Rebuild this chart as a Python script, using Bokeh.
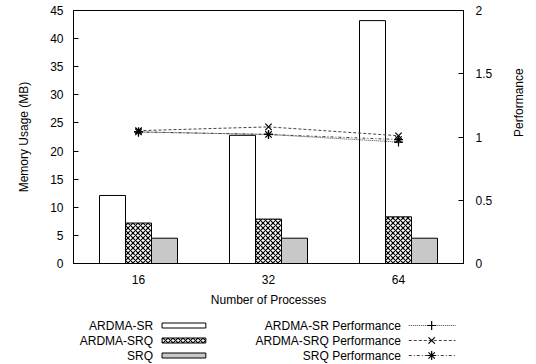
import math
from bokeh.plotting import figure
from bokeh.models import (FactorRange, Range1d, LinearAxis, NumeralTickFormatter,
                          FixedTicker, ColumnDataSource)
from bokeh.transform import dodge
from bokeh.layouts import column
from bokeh.embed import file_html
from bokeh.resources import INLINE
from bokeh.core.properties import value

# ---- data ----
procs = ["16", "32", "64"]
ardma_sr = [12.1, 22.8, 43.2]
ardma_srq = [7.2, 7.9, 8.3]
srq = [4.5, 4.5, 4.5]
perf_ardma_sr = [1.04, 1.02, 0.96]
perf_ardma_srq = [1.05, 1.08, 1.01]
perf_srq = [1.04, 1.02, 0.98]
left_ticks = [0, 5, 10, 15, 20, 25, 30, 35, 40, 45]
right_ticks = [0, 0.5, 1, 1.5, 2]
legend_bars = ["ARDMA-SR", "ARDMA-SRQ", "SRQ"]
legend_lines = ["ARDMA-SR Performance", "ARDMA-SRQ Performance", "SRQ Performance"]

FONT = "Liberation Sans"
FS = "12px"
LINE_COL = "#444444"
HATCH = dict(hatch_pattern="diagonal_cross", hatch_color="black",
             hatch_weight=1.2, hatch_scale=5)
DASHES = ["1 1", "3 2", "3 2 1 2"]
MARKS = ["cross", "x", "asterisk"]

src = ColumnDataSource(dict(x=procs, sr=ardma_sr, asrq=ardma_srq, srq=srq,
                            p1=perf_ardma_sr, p2=perf_ardma_srq, p3=perf_srq))

p = figure(width=536, height=310, x_range=FactorRange(*procs, range_padding=0),
           y_range=Range1d(0, 45), output_backend="svg", toolbar_location=None,
           min_border_left=73, min_border_right=71, min_border_top=10,
           min_border_bottom=47)
p.extra_y_ranges = {"perf": Range1d(0, 2)}
p.xgrid.visible = False
p.ygrid.visible = False
p.outline_line_color = "black"
p.outline_line_width = 1

bw = 0.2
p.vbar(x=dodge("x", -bw, range=p.x_range), top="sr", width=bw, source=src,
       fill_color="white", line_color="black", line_width=1)
p.vbar(x=dodge("x", 0, range=p.x_range), top="asrq", width=bw, source=src,
       fill_color="white", line_color="black", line_width=1, **HATCH)
p.vbar(x=dodge("x", bw, range=p.x_range), top="srq", width=bw, source=src,
       fill_color="#c8c8c8", line_color="black", line_width=1)

for col, d, m in zip(["p1", "p2", "p3"], DASHES, MARKS):
    p.line(x="x", y=col, source=src, y_range_name="perf", line_color=LINE_COL,
           line_dash=d, line_width=1)
    p.scatter(x="x", y=col, source=src, y_range_name="perf", marker=m,
              size=9, line_color="black", line_width=1.2)

ax = p.xaxis[0]
ax.axis_label = "Number of Processes"
ax.major_tick_line_color = None
ax.minor_tick_line_color = None
ax.major_label_standoff = 5
ax.axis_label_standoff = 6

ay = p.yaxis[0]
ay.axis_label = "Memory Usage (MB)"
ay.ticker = FixedTicker(ticks=left_ticks)
ay.major_tick_in = 5
ay.major_tick_out = 0
ay.minor_tick_line_color = None
ay.major_label_standoff = 10
ay.axis_label_standoff = 16

ry = LinearAxis(y_range_name="perf", axis_label="Performance")
ry.ticker = FixedTicker(ticks=right_ticks)
ry.formatter = NumeralTickFormatter(format="0.[0]")
ry.major_tick_in = 5
ry.major_tick_out = 0
ry.minor_tick_line_color = None
ry.major_label_standoff = 12
ry.axis_label_standoff = 24
ry.axis_label_orientation = math.pi / 2
p.add_layout(ry, "right")

for a in [ax, ay, ry]:
    a.axis_line_color = "black"
    a.major_label_text_font = FONT
    a.major_label_text_font_size = FS
    a.major_label_text_color = "black"
    a.axis_label_text_font = FONT
    a.axis_label_text_font_size = FS
    a.axis_label_text_font_style = "normal"
    a.axis_label_text_color = "black"
ay.major_tick_line_color = "black"
ry.major_tick_line_color = "black"

# ---- legend (separate strip below, frame aligned with the main frame) ----
lg = figure(width=536, height=54, x_range=Range1d(73, 465), y_range=Range1d(54, 0),
            output_backend="svg", toolbar_location=None, min_border_left=73,
            min_border_right=71, min_border_top=0, min_border_bottom=0)
lg.axis.visible = False
lg.grid.visible = False
lg.outline_line_color = None

rows = [15, 30, 45]
lsrc = ColumnDataSource(dict(y=rows, lab=legend_bars, lab2=legend_lines))
lg.text(x=153, y="y", text="lab", source=lsrc, text_align="right",
        text_baseline="middle", text_font=value(FONT), text_font_size=FS)
lg.text(x=402, y="y", text="lab2", source=lsrc, text_align="right",
        text_baseline="middle", text_font=value(FONT), text_font_size=FS)

lg.rect(x=184, y=rows[0], width=44, height=5, fill_color="white",
        line_color="black")
lg.rect(x=184, y=rows[1], width=44, height=5, fill_color="white",
        line_color="black", **HATCH)
lg.rect(x=184, y=rows[2], width=44, height=5, fill_color="#c8c8c8",
        line_color="black")

for yy, d, m in zip(rows, DASHES, MARKS):
    lg.segment(x0=410, y0=yy, x1=457, y1=yy, line_color=LINE_COL, line_dash=d,
               line_width=1)
    lg.scatter(x=[433], y=[yy], marker=m, size=9, line_color="black",
               line_width=1.2)

layout = column(p, lg, spacing=0)
open("out.html", "w").write(file_html(layout, INLINE))
